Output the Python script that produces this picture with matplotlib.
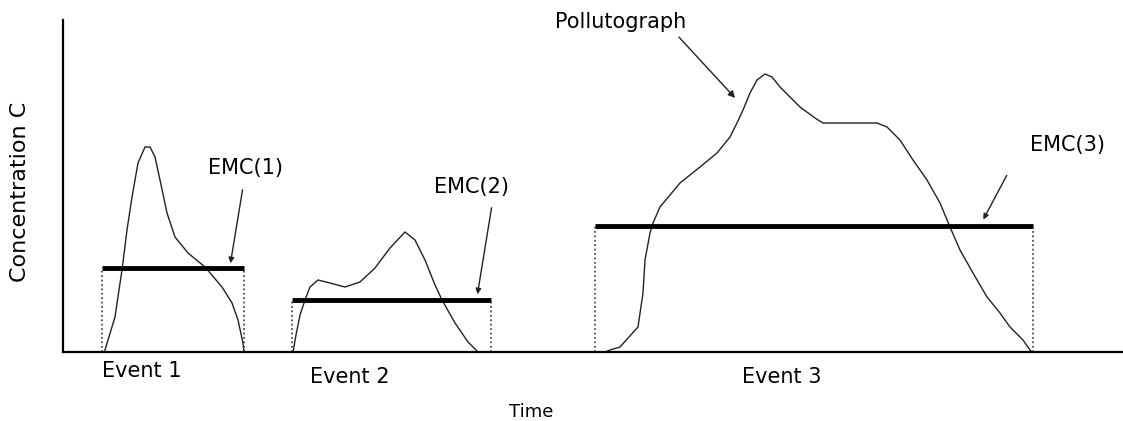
import matplotlib.pyplot as plt

# event curves (time, concentration)
t1 = [41, 42, 52, 59, 64, 69, 75, 82, 87, 92, 97, 104, 112, 125, 142, 159, 169, 175, 180, 181]
c1 = [0, 2, 35, 82, 122, 155, 189, 205, 205, 195, 172, 139, 115, 99, 85, 65, 49, 32, 9, 0]

t2 = [230, 233, 237, 242, 247, 255, 267, 282, 297, 312, 327, 342, 352, 362, 372, 379, 392, 405, 415]
c2 = [0, 17, 37, 52, 65, 72, 69, 65, 70, 84, 104, 120, 112, 92, 67, 52, 29, 10, 0]

t3 = [542, 547, 557, 575, 580, 582, 587, 590, 597, 617, 637, 654, 667, 674, 680, 687, 694, 702,
      709, 717, 737, 752, 760, 780, 814, 824, 837, 850, 864, 877, 887, 897, 910, 924, 937, 947,
      960, 967, 969]
c3 = [0, 2, 5, 25, 59, 92, 119, 129, 145, 169, 185, 199, 215, 229, 242, 259, 272, 278,
      275, 265, 245, 234, 229, 229, 229, 225, 212, 192, 172, 149, 125, 102, 79, 55, 39, 25,
      12, 2, 0]

# event mean concentrations and their spans
emc = [84, 52, 126]
emc_start = [39, 229, 532]
emc_end = [181, 428, 970]
emc_labels = ["EMC(1)", "EMC(2)", "EMC(3)"]
event_labels = ["Event 1", "Event 2", "Event 3"]

fig = plt.figure(figsize=(11.23, 4.21), dpi=100)
ax = fig.add_axes([63 / 1123, 69 / 421, 1060 / 1123, 332 / 421])

for t, c in zip([t1, t2, t3], [c1, c2, c3]):
    ax.plot(t, c, color="#222222", lw=1)

for e, a, b in zip(emc, emc_start, emc_end):
    ax.plot([a, b], [e, e], color="black", lw=3.5, solid_capstyle="butt")
    ax.plot([a, a], [0, e], color="#333333", lw=1.2, ls=":")
    ax.plot([b, b], [0, e], color="#333333", lw=1.2, ls=":")

fs = 15
# EMC labels with leader lines
lab_pos = [(183, 184), (409, 165), (1005, 207)]
lead_from = [(180, 165), (429, 147), (945, 179)]
lead_to = [(167, 86), (414, 55), (919, 130)]
for s, p, f, g in zip(emc_labels, lab_pos, lead_from, lead_to):
    ax.text(p[0], p[1], s, ha="center", va="center", fontsize=fs)
    ax.annotate("", xy=g, xytext=f,
                arrowprops=dict(arrowstyle="-|>", color="#222222", lw=1,
                                mutation_scale=8))

ax.text(558, 330, "Pollutograph", ha="center", va="center", fontsize=fs, clip_on=False)
ax.annotate("", xy=(674, 252), xytext=(614, 317), annotation_clip=False,
            arrowprops=dict(arrowstyle="-|>", color="#222222", lw=1,
                            mutation_scale=10))

for s, x, y in zip(event_labels, [79, 287, 719], [-19, -25, -25]):
    ax.text(x, y, s, ha="center", va="center", fontsize=fs, clip_on=False)

ax.text(468, -60, "Time", ha="center", va="center", fontsize=13, clip_on=False)
ax.text(-43, 160, "Concentration C", ha="center", va="center", rotation=90,
        fontsize=16, clip_on=False)

ax.set_xlim(0, 1060)
ax.set_ylim(0, 332)
ax.set_xticks([])
ax.set_yticks([])
for s in ["top", "right"]:
    ax.spines[s].set_visible(False)
for s in ["left", "bottom"]:
    ax.spines[s].set_linewidth(1.6)

fig.savefig("out.png", dpi=100)
